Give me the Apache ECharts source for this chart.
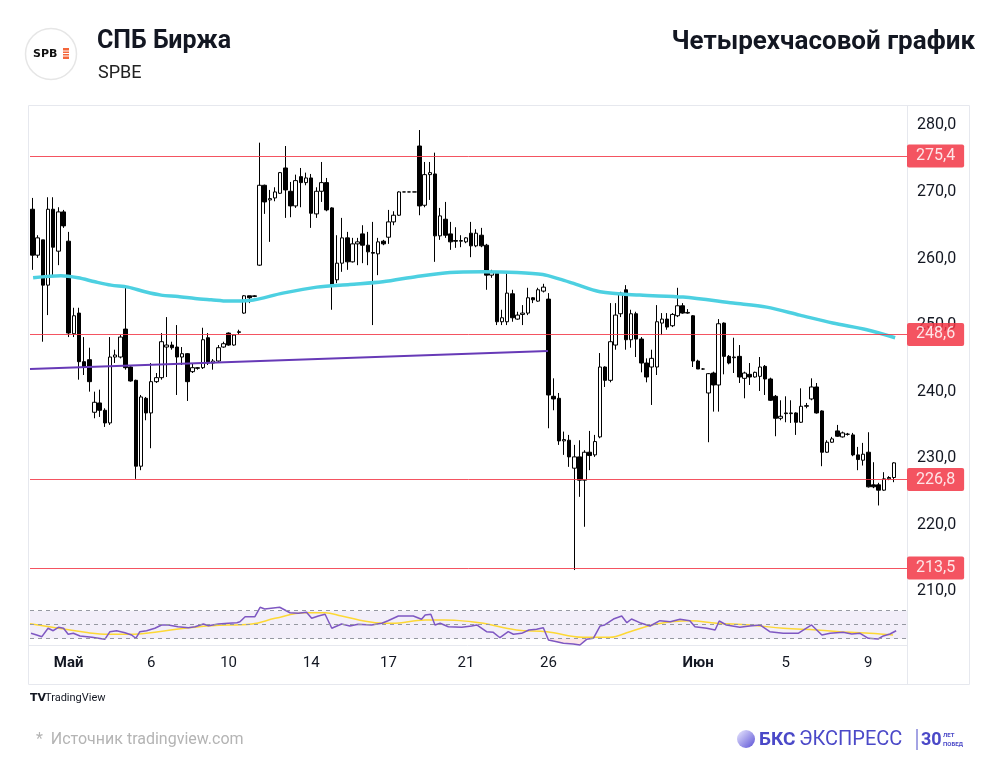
<!DOCTYPE html>
<html><head><meta charset="utf-8">
<script src="https://cdn.jsdelivr.net/npm/echarts@6/dist/echarts.min.js"></script>
<style>html,body{margin:0;padding:0;background:#fff}#c{width:1000px;height:775px}</style>
</head><body><div id="c"></div>
<script>
// [open, close, low, high] — 4-hour candles
const candles = [
[267.4,260.5,258.3,269.1],[260.5,263.1,260.1,263.5],[262.8,256.0,247.5,262.8],[256.0,267.4,251.5,269.2],[267.4,261.7,257.5,269.2],
[261.1,267.0,259.0,267.7],[267.0,264.9,264.6,267.3],[262.6,248.8,248.2,264.0],[248.7,251.4,248.2,252.6],[251.8,244.5,241.8,252.6],
[244.5,243.7,242.5,248.2],[244.8,241.5,240.0,246.6],[236.9,238.4,236.0,240.0],[238.3,237.2,236.2,240.3],[237.2,235.3,234.7,237.5],
[235.3,245.2,235.0,248.2],[245.2,245.5,244.3,246.3],[245.2,248.2,245.0,248.5],[249.4,243.6,243.3,255.9],[243.7,241.6,241.5,243.8],
[241.7,228.8,226.9,241.8],[228.8,239.2,228.2,239.5],[239.0,236.8,235.7,239.2],[236.8,241.5,231.5,244.3],[241.5,242.1,241.3,242.8],
[242.1,247.5,241.8,248.8],[246.7,247.0,242.2,251.2],[247.0,246.6,246.3,247.5],[246.7,245.2,239.5,250.0],[245.2,245.7,244.0,246.7],
[245.7,241.5,238.6,245.8],[243.0,243.6,242.8,244.3],[243.5,243.6,243.3,243.7],[243.6,247.8,243.4,249.6],[248.1,244.3,244.0,248.8],
[244.3,244.6,243.3,244.9],[244.6,246.6,244.4,247.0],[246.7,247.2,246.6,247.5],[248.8,247.0,246.9,248.9],[247.0,248.5,246.9,248.6],
[248.9,249.0,248.6,249.3],[251.8,254.4,251.7,254.5],[254.4,254.1,253.3,254.4],[254.3,254.4,254.2,254.5],[259.0,271.0,258.9,277.4],
[271.0,268.5,266.7,271.1],[268.8,269.0,262.5,270.3],[269.1,270.0,268.6,270.7],[269.8,272.9,269.7,273.0],[273.6,270.3,266.1,276.9],
[270.1,267.9,266.2,271.5],[267.9,271.7,267.6,272.6],[272.3,271.4,267.7,273.6],[271.4,272.1,271.0,272.9],[272.1,266.8,264.6,272.7],
[266.7,270.1,266.1,270.7],[270.1,271.4,268.5,274.5],[271.4,267.3,267.1,272.1],[267.6,255.9,252.3,267.7],[256.8,259.3,256.3,263.5],
[259.3,263.1,258.0,266.1],[263.1,259.5,258.3,264.0],[259.5,262.2,259.4,263.1],[262.2,262.5,259.0,263.1],[263.7,262.0,259.3,265.0],
[262.0,261.0,259.0,264.0],[260.9,260.8,250.0,265.5],[260.7,262.5,257.5,263.1],[262.6,262.2,262.0,262.8],[263.2,265.5,262.2,267.3],
[265.5,266.5,265.0,267.1],[266.5,270.0,266.4,270.1],[270.0,270.0,270.0,270.0],[270.0,270.0,270.0,270.0],[270.0,270.0,270.0,270.0],
[276.9,267.9,266.5,279.3],[268.0,272.6,267.7,274.5],[272.6,272.9,268.8,274.5],[272.7,263.4,259.5,275.9],[263.4,266.4,262.8,267.6],
[265.9,263.5,263.1,268.5],[263.7,262.5,261.3,265.5],[262.7,262.6,261.6,264.7],[262.6,262.7,261.7,263.5],[262.5,263.1,262.3,263.2],
[263.8,261.9,260.2,265.5],[261.9,263.8,261.7,264.4],[263.5,261.9,261.7,264.6],[262.0,257.5,255.3,262.2],[257.5,258.0,257.1,258.3],
[257.8,250.5,250.0,258.0],[250.5,251.1,250.0,252.3],[250.5,254.8,250.0,258.0],[254.7,251.1,250.5,255.3],[250.9,251.5,250.8,252.0],
[251.6,251.8,250.0,253.0],[251.8,254.1,251.5,255.6],[254.1,253.8,253.3,254.2],[253.6,255.3,253.5,255.6],[255.1,255.7,254.9,256.2],
[253.9,239.5,234.5,254.8],[239.3,238.9,237.2,242.0],[239.0,232.6,232.0,239.8],[232.6,232.8,230.5,234.0],[232.7,230.2,228.7,233.5],
[228.5,230.2,213.2,232.0],[230.2,226.7,224.2,232.7],[226.7,230.9,219.7,231.2],[230.9,230.4,228.2,234.1],[230.5,232.5,230.2,233.5],
[233.2,243.7,233.0,245.8],[243.7,241.7,240.7,243.8],[241.7,247.5,241.4,253.3],[247.0,251.5,246.3,253.3],[251.7,254.8,251.2,255.0],
[255.3,247.8,246.3,256.0],[247.8,251.7,246.6,252.3],[251.7,247.9,245.2,252.0],[247.9,244.3,242.9,248.2],[244.3,242.2,241.4,245.0],
[243.7,245.0,238.0,246.3],[243.7,250.5,242.5,253.0],[250.3,250.9,248.5,251.8],[250.9,249.7,249.3,251.8],[249.9,251.6,249.7,251.8],
[251.4,252.9,251.2,255.6],[252.9,251.8,251.7,253.3],[251.8,251.9,251.7,252.4],[251.4,244.6,243.7,251.5],[244.6,243.4,243.4,244.8],
[243.4,243.4,243.3,243.5],[239.8,242.7,232.4,242.8],[242.8,241.0,237.0,243.0],[241.0,250.2,237.0,250.9],[250.3,245.3,242.6,250.4],
[245.3,244.3,244.1,245.5],[245.1,245.2,242.8,248.1],[245.3,242.2,241.3,247.0],[242.0,242.8,239.0,243.0],[242.6,242.2,241.0,244.3],
[242.2,242.9,242.1,243.0],[242.3,243.7,240.1,245.2],[243.8,241.9,239.5,244.0],[241.9,238.7,238.6,242.1],[239.3,236.0,233.3,239.5],
[236.0,236.3,235.7,238.7],[236.8,236.7,235.4,239.3],[236.7,236.8,235.3,238.7],[236.8,235.4,233.5,236.9],[235.4,237.8,235.3,240.5],
[237.8,237.9,237.5,238.3],[238.9,240.7,238.7,242.0],[240.7,236.8,236.7,241.3],[237.1,230.9,228.8,237.2],[230.9,232.4,230.8,232.7],
[232.4,232.9,232.3,233.2],[234.1,233.3,233.2,235.0],[233.2,233.8,233.1,234.0],[233.6,233.6,233.4,233.8],[233.5,230.5,230.3,233.8],
[230.5,229.8,228.2,231.7],[229.7,230.6,228.9,232.3],[230.9,225.7,225.6,233.9],[226.0,225.7,225.5,229.4],[226.0,225.2,222.9,226.3],
[225.2,226.9,225.1,227.9],[226.9,227.1,226.7,227.3],[227.1,229.3,226.4,229.4]
];
// [candle index, value]
const maLine = [[0.1,257.1],[5.5,257.4],[8.8,257.1],[12.1,256.5],[15.2,256.0],[18.5,255.7],[21.8,255.0],[24.9,254.5],[28.2,254.3],[31.5,254.0],[34.6,253.8],[37.9,253.6],[42.1,253.7],[48.5,254.8],[55.1,255.7],[61.5,256.1],[67.9,256.5],[74.5,257.3],[80.9,257.9],[87.3,258.0],[93.9,257.9],[98.9,257.6],[102.2,256.9],[104.7,256.3],[110.0,255.0],[117.7,254.5],[126.1,254.2],[135.8,253.3],[142.3,252.7],[148.7,251.5],[155.1,250.3],[161.7,249.3],[167.2,248.1]];
const trendLine = [[-0.5,243.4],[99.9,246.1]];
const rsiLine = [[-0.3,37.7],[0.8,35.3],[1.8,32.9],[3.0,44.9],[4.0,41.4],[5.0,46.3],[6.0,44.9],[6.9,36.3],[7.9,37.7],[9.2,33.9],[11.5,32.0],[14.0,29.1],[15.0,40.0],[16.3,41.4],[17.9,38.6],[19.2,35.3],[20.0,30.6],[20.8,40.0],[22.1,41.4],[23.7,44.9],[25.0,49.6],[26.3,49.6],[28.2,47.1],[30.2,45.7],[31.5,47.1],[33.1,51.0],[34.1,48.6],[36.0,51.0],[37.9,52.0],[39.6,52.9],[40.2,54.3],[41.2,61.4],[43.1,61.4],[44.1,74.9],[45.0,72.4],[47.9,74.9],[49.9,67.1],[51.5,66.3],[53.1,67.7],[54.1,59.1],[55.4,62.4],[56.7,64.9],[58.0,44.9],[59.9,51.0],[61.5,48.1],[63.1,50.6],[65.7,49.6],[67.7,52.0],[68.9,55.7],[70.9,62.4],[73.8,62.4],[75.4,57.7],[76.1,63.9],[77.2,64.9],[78.0,49.6],[79.0,52.0],[80.6,47.1],[83.2,46.3],[85.1,48.1],[86.1,49.6],[88.0,40.0],[89.3,39.1],[90.6,31.4],[92.2,40.0],[93.2,36.3],[94.8,37.7],[96.2,42.4],[97.7,43.4],[99.0,45.7],[100.0,28.1],[101.6,25.7],[102.9,23.4],[104.8,22.4],[106.1,21.0],[107.4,29.1],[108.7,30.6],[110.0,48.1],[110.9,49.6],[112.6,58.1],[114.2,62.4],[115.2,52.9],[116.1,58.1],[117.7,52.9],[119.7,48.1],[121.6,55.7],[123.6,54.3],[125.5,57.7],[127.4,55.7],[128.4,47.1],[130.7,44.9],[132.3,42.4],[133.1,55.3],[134.5,49.6],[137.1,46.3],[139.0,48.1],[141.0,49.6],[142.9,40.0],[145.5,37.7],[148.4,37.7],[149.4,42.4],[151.0,49.6],[153.0,35.3],[154.6,37.7],[157.1,39.1],[158.8,36.7],[160.4,37.7],[162.0,30.6],[163.9,29.6],[164.9,33.9],[166.2,36.7],[167.4,41.4]];
const rsiMa = [[-0.5,51.5],[5.0,44.9],[10.2,39.1],[14.7,36.3],[19.8,36.3],[24.4,40.0],[29.5,44.9],[34.7,48.6],[42.5,51.0],[47.0,59.1],[52.8,67.1],[56.7,67.1],[59.9,62.4],[66.4,52.9],[69.6,52.0],[76.1,56.7],[79.9,56.7],[85.1,54.3],[87.4,52.0],[93.8,42.4],[99.7,40.0],[106.7,32.0],[111.9,32.0],[115.8,40.0],[121.0,51.0],[127.4,55.7],[132.6,52.0],[139.0,49.6],[145.5,44.9],[152.0,42.4],[158.4,39.1],[162.3,37.7],[166.8,35.3]];
const rsiOversold = [[99.9,30],[100.0,28.1],[101.6,25.7],[102.9,23.4],[104.8,22.4],[106.1,21.0],[107.4,29.1],[108.2,30]];
const rsiBands = [30, 50, 70];
const levels = [275.4, 248.6, 226.8, 213.5];
const priceTicks = [210, 220, 230, 240, 250, 260, 270, 280];
const dateTicks = [[7,'Май',true],[23,'6'],[38,'10'],[54,'14'],[69,'17'],[84,'21'],[100,'26'],[129,'Июн',true],[146,'5'],[162,'9']];
const padSlots = 2;

const categories = candles.map((_, i) => String(i)).concat(Array.from({length: padSlots}, (_, i) => 'p' + i));
const tickMap = new Map(dateTicks.map(t => [t[0], t]));
const fmt = v => Number(v).toFixed(1).replace('.', ',');
const FONT = 'Roboto, "Noto Sans", sans-serif';
const BKS = '#4b49c8';

const chart = echarts.init(document.getElementById('c'), null, {renderer: 'canvas'});
chart.setOption({
  animation: false,
  backgroundColor: '#fff',
  textStyle: {fontFamily: FONT},
  grid: [
    {left: 30, right: 93, top: 105, height: 540},
    {left: 30, right: 93, top: 589.7, height: 70}
  ],
  xAxis: [
    {type: 'category', gridIndex: 0, data: categories, boundaryGap: true,
     axisLine: {show: false}, axisTick: {show: false}, splitLine: {show: false},
     axisLabel: {
       interval: (i) => tickMap.has(i), margin: 11, fontSize: 15, color: '#131722',
       formatter: (v, i) => { const t = tickMap.get(i); if (!t) return ''; return t[2] ? '{b|' + t[1] + '}' : t[1]; },
       rich: {b: {fontWeight: 'bold', fontSize: 15, color: '#131722', fontFamily: FONT}}
     }},
    {type: 'value', gridIndex: 0, min: -0.5, max: categories.length - 0.5, show: false},
    {type: 'value', gridIndex: 1, min: -0.5, max: categories.length - 0.5, show: false}
  ],
  yAxis: [
    {type: 'value', gridIndex: 0, position: 'right', min: 201.94, max: 283.06, scale: true,
     axisLine: {show: false}, axisTick: {show: false}, splitLine: {show: false},
     axisLabel: {customValues: priceTicks, formatter: fmt, fontSize: 16, color: '#131722', margin: 10}},
    {type: 'value', gridIndex: 1, min: 0, max: 100, show: false}
  ],
  series: [
    {type: 'candlestick', xAxisIndex: 0, yAxisIndex: 0, data: candles, barWidth: 4,
     itemStyle: {color: '#ffffff', color0: '#000000', borderColor: '#000000', borderColor0: '#000000', borderWidth: 1},
     markLine: {silent: true, symbol: ['none', 'none'], animation: false,
       lineStyle: {color: '#f23645', width: 1, type: 'solid', opacity: 0.85},
       label: {show: true, position: 'end', distance: 0, formatter: p => fmt(p.value),
         backgroundColor: '#f23645', color: '#fff', fontSize: 16, padding: [4, 9, 3, 9], borderRadius: 2, fontFamily: FONT},
       data: levels.map(v => ({yAxis: v}))}},
    {type: 'line', xAxisIndex: 1, yAxisIndex: 0, data: maLine, smooth: 0.3, showSymbol: false,
     lineStyle: {color: '#4dd0e1', width: 3.5}, z: 3},
    {type: 'line', xAxisIndex: 1, yAxisIndex: 0, data: trendLine, showSymbol: false,
     lineStyle: {color: '#673ab7', width: 2}, z: 3},
    {type: 'line', xAxisIndex: 2, yAxisIndex: 1, data: rsiOversold, showSymbol: false,
     lineStyle: {width: 0}, areaStyle: {origin: 30, color: 'rgba(242,54,69,0.18)'}, z: 2},
    {type: 'line', xAxisIndex: 2, yAxisIndex: 1, data: rsiMa, smooth: 0.4, showSymbol: false,
     lineStyle: {color: '#fdd835', width: 1.5}, z: 3},
    {type: 'line', xAxisIndex: 2, yAxisIndex: 1, data: rsiLine, showSymbol: false,
     lineStyle: {color: '#7e57c2', width: 1.5}, z: 4,
     markArea: {silent: true, itemStyle: {color: 'rgba(126,87,194,0.1)'}, data: [[{yAxis: rsiBands[0]}, {yAxis: rsiBands[2]}]]},
     markLine: {silent: true, symbol: ['none', 'none'], label: {show: false},
       lineStyle: {color: '#9598a1', width: 1, type: [4, 4]}, data: rsiBands.map(v => ({yAxis: v}))}}
  ],
  graphic: [
    // frame
    {type: 'rect', shape: {x: 28.5, y: 105.5, width: 941, height: 579}, style: {fill: 'none', stroke: '#e6e8ee', lineWidth: 1}, silent: true},
    {type: 'line', shape: {x1: 907.5, y1: 105, x2: 907.5, y2: 685}, style: {stroke: '#e6e8ee', lineWidth: 1}, silent: true},
    {type: 'line', shape: {x1: 28, y1: 645.5, x2: 907, y2: 645.5}, style: {stroke: '#e6e8ee', lineWidth: 1}, silent: true},
    // logo
    {type: 'circle', shape: {cx: 51, cy: 54, r: 25.5}, style: {fill: '#fff', stroke: '#e6e6e6', lineWidth: 1.5}},
    {type: 'text', style: {x: 33, y: 54, text: 'SPB', font: 'bold 11px "DejaVu Sans"', fill: '#111', verticalAlign: 'middle'}},
    {type: 'rect', shape: {x: 63, y: 48, width: 6, height: 11}, style: {fill: '#f4663b'}},
    {type: 'rect', shape: {x: 63, y: 50.5, width: 6, height: 1}, style: {fill: '#fff'}},
    {type: 'rect', shape: {x: 63, y: 53, width: 6, height: 1}, style: {fill: '#fff'}},
    {type: 'rect', shape: {x: 63, y: 55.5, width: 6, height: 1}, style: {fill: '#fff'}},
    // titles
    {type: 'text', style: {x: 97, y: 42, text: 'СПБ Биржа', font: 'bold 25px ' + FONT, fill: '#131722', verticalAlign: 'middle'}},
    {type: 'text', style: {x: 98, y: 73, text: 'SPBE', font: '18px ' + FONT, fill: '#222', verticalAlign: 'middle'}},
    {type: 'text', style: {x: 975, y: 42, text: 'Четырехчасовой график', font: 'bold 26px ' + FONT, fill: '#131722', align: 'right', verticalAlign: 'middle'}},
    // tradingview mark
    {type: 'text', style: {x: 30, y: 698, text: 'TV', font: 'bold 11px "DejaVu Sans"', fill: '#131722', verticalAlign: 'middle'}},
    {type: 'text', style: {x: 45, y: 698, text: 'TradingView', font: '11px ' + FONT, fill: '#131722', verticalAlign: 'middle'}},
    // source
    {type: 'text', style: {x: 36, y: 740, text: '*  Источник tradingview.com', font: '16px ' + FONT, fill: '#b4b4b4', verticalAlign: 'middle'}},
    // BKS logo
    {type: 'circle', shape: {cx: 746, cy: 739, r: 9}, style: {fill: new echarts.graphic.LinearGradient(0, 0, 1, 1, [{offset: 0, color: '#ecebff'}, {offset: 1, color: '#5a50d6'}])}},
    {type: 'text', style: {x: 759, y: 740, text: 'БКС', font: 'bold 19px ' + FONT, fill: BKS, verticalAlign: 'middle'}},
    {type: 'text', style: {x: 799, y: 740, text: 'ЭКСПРЕСС', font: '20px ' + FONT, fill: BKS, verticalAlign: 'middle'}},
    {type: 'line', shape: {x1: 917, y1: 729, x2: 917, y2: 750}, style: {stroke: BKS, lineWidth: 1}},
    {type: 'text', style: {x: 921, y: 740, text: '30', font: 'bold 18px ' + FONT, fill: BKS, verticalAlign: 'middle'}},
    {type: 'text', style: {x: 943, y: 735, text: 'ЛЕТ', font: 'bold 6px ' + FONT, fill: BKS, verticalAlign: 'middle'}},
    {type: 'text', style: {x: 943, y: 744, text: 'ПОБЕД', font: 'bold 6px ' + FONT, fill: BKS, verticalAlign: 'middle'}}
  ]
});
</script>
</body></html>
